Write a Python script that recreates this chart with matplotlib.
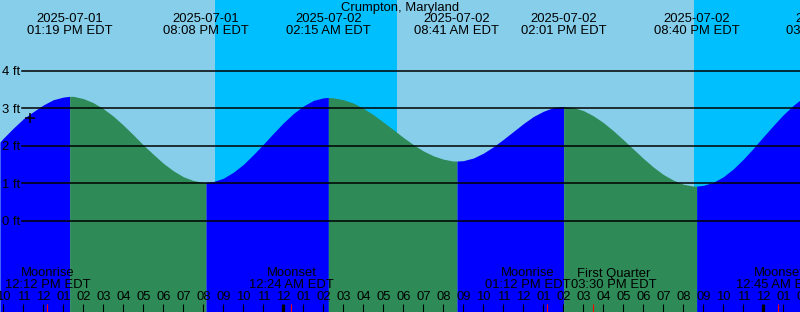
import numpy as np
import matplotlib
matplotlib.use("Agg")
import matplotlib.pyplot as plt

# --- DATA (hours counted from 2025-07-01 00:00 EDT) ---
hours = [9.833, 10, 10.5, 11, 11.5, 12, 12.5, 13, 13.5, 14, 14.5, 15, 15.5,
         16, 16.5, 17, 17.5, 18, 18.5, 19, 19.5, 20, 20.5, 21, 21.5, 22, 22.5,
         23, 23.5, 24, 24.5, 25, 25.5, 26, 26.5, 27, 27.5, 28, 28.5, 29, 29.5,
         30, 30.5, 31, 31.5, 32, 32.5, 33, 33.5, 34, 34.5, 35, 35.5, 36, 36.5,
         37, 37.5, 38, 38.5, 39, 39.5, 40, 40.5, 41, 41.5, 42, 42.5, 43, 43.5,
         44, 44.5, 45, 45.5, 46, 46.5, 47, 47.5, 48, 48.5, 49, 49.5, 49.833]
heights = [2.10, 2.20, 2.47, 2.72, 2.91, 3.09, 3.23, 3.30, 3.32, 3.26, 3.15, 2.99, 2.79,
           2.55, 2.29, 2.02, 1.77, 1.53, 1.33, 1.17, 1.07, 1.02, 1.04, 1.13, 1.29, 1.50, 1.76,
           2.04, 2.33, 2.61, 2.86, 3.06, 3.21, 3.28, 3.28, 3.23, 3.14, 3.00, 2.83, 2.63, 2.43,
           2.22, 2.03, 1.86, 1.73, 1.64, 1.59, 1.60, 1.67, 1.80, 1.97, 2.17, 2.38, 2.59, 2.78,
           2.92, 3.02, 3.05, 3.02, 2.94, 2.80, 2.62, 2.40, 2.16, 1.91, 1.66, 1.43, 1.23, 1.08,
           0.97, 0.92, 0.94, 1.02, 1.17, 1.38, 1.64, 1.93, 2.24, 2.54, 2.83, 3.08, 3.22]

tide_times = [13.317, 20.133, 26.25, 32.683, 38.017, 44.667, 51.25]
tide_heights = [3.32, 1.02, 3.29, 1.59, 3.05, 0.92, 3.50]
tide_dates = ["2025-07-01", "2025-07-01", "2025-07-02", "2025-07-02",
              "2025-07-02", "2025-07-02", "2025-07-03"]
tide_labels = ["01:19 PM EDT", "08:08 PM EDT", "02:15 AM EDT", "08:41 AM EDT",
               "02:01 PM EDT", "08:40 PM EDT", "03:15 AM EDT"]

night_start = [20.6, 44.55]
night_end = [29.67, 50.5]

moon_times = [12.2, 24.4, 37.2, 39.5, 48.75]
moon_names = ["Moonrise", "Moonset", "Moonrise", "First Quarter", "Moonset"]
moon_labels = ["12:12 PM EDT", "12:24 AM EDT", "01:12 PM EDT", "03:30 PM EDT",
               "12:45 AM EDT"]

now_time, now_height = 11.33, 2.75
ft_levels = [0, 1, 2, 3, 4]

# --- STYLE ---
DAY = "#87CEEB"
NIGHT = "#00BFFF"
RISE = "#0000FF"
FALL = "#2E8B57"
FONT = "Liberation Sans"
FS = 9.4
W, H = 800, 312
XMIN, XMAX = 9.8333, 49.8333
PX_FT = 37.4
Y0_PX = 220.5


def fy(px):
    # pixel row -> axes fraction
    return 1 - px / H


fig = plt.figure(figsize=(W / 100, H / 100), dpi=100)
ax = fig.add_axes([0, 0, 1, 1])
ax.set_xlim(XMIN, XMAX)
ax.set_ylim((Y0_PX - H) / PX_FT, Y0_PX / PX_FT)
ax.axis("off")
fig.patch.set_facecolor(DAY)
ybot = (Y0_PX - H) / PX_FT

# day / night background
for s, e in zip(night_start, night_end):
    ax.axvspan(s, e, color=NIGHT, lw=0, zorder=0)

# merge curve samples with the tide extremes
t = np.array(hours + tide_times)
h = np.array(heights + tide_heights)
order = np.argsort(t)
t, h = t[order], h[order]

# fill rising (blue) and falling (green) stretches down to the bottom
bounds = [-np.inf] + tide_times + [np.inf]
for i in range(len(bounds) - 1):
    m = (t >= bounds[i]) & (t <= bounds[i + 1])
    if m.sum() < 2:
        continue
    if i < len(tide_times):
        rising = tide_heights[i] > 2      # stretch ends at a high tide
    else:
        rising = tide_heights[-1] < 2     # stretch after the last extreme
    ax.fill_between(t[m], ybot, h[m], color=RISE if rising else FALL, lw=0, zorder=1)

# height grid lines and labels
for lv in ft_levels:
    ax.axhline(lv, xmin=22 / W, xmax=1, color="black", lw=1.1, zorder=3)
    ax.text(2 / W, lv, f"{lv} ft", transform=ax.get_yaxis_transform(),
            ha="left", va="center_baseline", fontsize=FS, family=FONT, zorder=4)

ax.plot([now_time], [now_height], marker="+", color="black", ms=7, mew=1.1, zorder=5)

tr = ax.get_xaxis_transform()

# title and tide event labels
ax.text(0.5, fy(8), "Crumpton, Maryland", transform=ax.transAxes, ha="center",
        va="center", fontsize=FS, family=FONT)
for tt, d, lab in zip(tide_times, tide_dates, tide_labels):
    ax.text(tt, fy(19.5), d, transform=tr, ha="center", va="center", fontsize=FS,
            family=FONT, clip_on=False)
    ax.text(tt, fy(31.5), lab, transform=tr, ha="center", va="center", fontsize=FS,
            family=FONT, clip_on=False)

# moon event labels (two are nudged apart so they do not overlap)
nudge = [0, 0, -0.97, 1.04, 0]
for mt, name, lab, dx in zip(moon_times, moon_names, moon_labels, nudge):
    ax.text(mt + dx, fy(273.5), name, transform=tr, ha="center", va="center",
            fontsize=FS, family=FONT, zorder=6)
    ax.text(mt + dx, fy(285.5), lab, transform=tr, ha="center", va="center",
            fontsize=FS, family=FONT, zorder=6)

# hour ticks and labels
for hr in range(9, 52):
    lab = f"{(hr % 12) or 12:02d}"
    ax.text(hr, fy(297.5), lab, transform=tr, ha="center", va="center",
            fontsize=FS, family=FONT, zorder=6)
    width = 2.3 if hr % 24 == 0 else 0.8
    ax.vlines(hr, 0, fy(304), transform=tr, color="black", lw=width, zorder=6)
ax.vlines(moon_times, 0, fy(304), transform=tr, color="red", lw=0.8, zorder=7)

fig.savefig("out.png", dpi=100, facecolor=DAY)
